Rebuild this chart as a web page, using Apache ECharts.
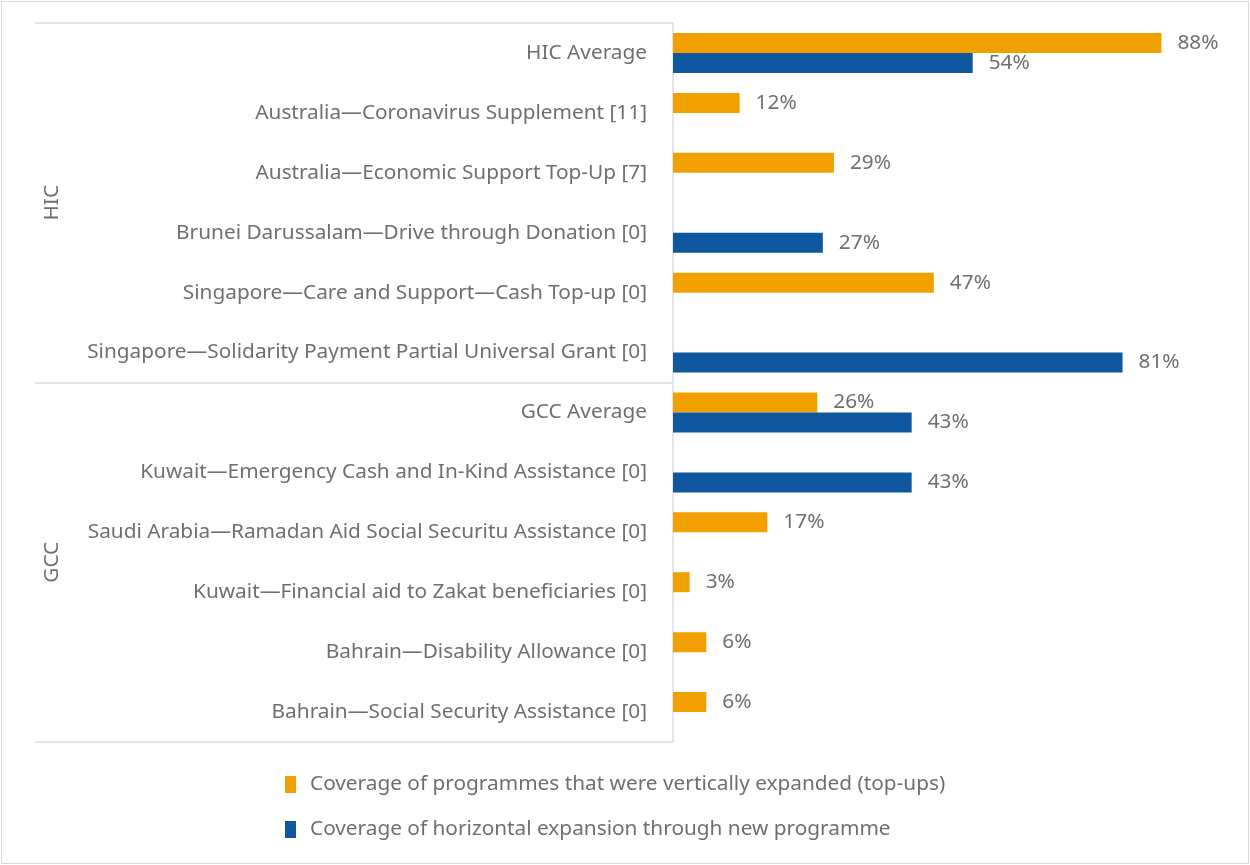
<!DOCTYPE html>
<html>
<head>
<meta charset="utf-8">
<script src="https://cdn.jsdelivr.net/npm/echarts@6/dist/echarts.min.js"></script>
<style>
  html, body { margin: 0; padding: 0; background: #fff; }
  #main { position: absolute; left: 1px; top: 1px; width: 1246px; height: 861px; border: 1px solid #d9d9d9; }
</style>
</head>
<body>
<div id="main"></div>
<script>
// programme names, top to bottom
var categories = [
    'HIC Average',
    'Australia\u2014Coronavirus Supplement [11]',
    'Australia\u2014Economic Support Top-Up [7]',
    'Brunei Darussalam\u2014Drive through Donation [0]',
    'Singapore\u2014Care and Support\u2014Cash Top-up [0]',
    'Singapore\u2014Solidarity Payment Partial Universal Grant [0]',
    'GCC Average',
    'Kuwait\u2014Emergency Cash and In-Kind Assistance [0]',
    'Saudi Arabia\u2014Ramadan Aid Social Securitu Assistance [0]',
    'Kuwait\u2014Financial aid to Zakat beneficiaries [0]',
    'Bahrain\u2014Disability Allowance [0]',
    'Bahrain\u2014Social Security Assistance [0]'
];
var groups = ['HIC', 'GCC'];
var seriesNames = [
    'Coverage of programmes that were vertically expanded (top-ups)',
    'Coverage of horizontal expansion through new programme'
];
// coverage in %
var topUps = [88, 12, 29, null, 47, null, 26, null, 17, 3, 6, 6];
var newProg = [54, null, null, 27, null, 81, 43, 43, null, null, null, null];

var textColor = '#6f6f6f';
var lineColor = '#dcdce4';
var font = 'Noto Sans';
var fs = 20.8;

var labelOpt = {
    show: true,
    position: 'right',
    distance: 16,
    formatter: '{c}%',
    color: textColor,
    fontFamily: font,
    fontSize: fs
};

var option = {
    animation: false,
    textStyle: { fontFamily: font },
    grid: { left: 671, right: 20, top: 21, bottom: 121 },
    legend: {
        orient: 'vertical',
        left: 278,
        top: 767,
        itemWidth: 11,
        itemHeight: 17,
        itemGap: 24,
        icon: 'rect',
        textStyle: { color: textColor, fontSize: fs, fontFamily: font, padding: [0, 0, 0, 9] },
        data: seriesNames
    },
    xAxis: {
        type: 'value',
        min: 0,
        max: 100,
        show: false
    },
    yAxis: [{
        type: 'category',
        inverse: true,
        data: categories,
        axisLine: { show: true, lineStyle: { color: lineColor, width: 1.5 } },
        axisTick: { show: false },
        axisLabel: { color: textColor, fontSize: fs, fontFamily: font, margin: 26 }
    }, {
        type: 'category',
        inverse: true,
        position: 'left',
        offset: 638,
        data: groups,
        axisLine: { show: false },
        axisTick: { show: true, inside: true, length: 638, lineStyle: { color: lineColor, width: 1.5 } },
        axisLabel: { inside: true, rotate: 90, margin: 7, color: textColor, fontSize: fs, fontFamily: font }
    }],
    series: [{
        name: seriesNames[0],
        type: 'bar',
        yAxisIndex: 0,
        data: topUps,
        barWidth: 20,
        barGap: '0%',
        itemStyle: { color: '#f29f00' },
        label: labelOpt
    }, {
        name: seriesNames[1],
        type: 'bar',
        yAxisIndex: 0,
        data: newProg,
        barWidth: 20,
        barGap: '0%',
        itemStyle: { color: '#0f579e' },
        label: labelOpt
    }]
};

var myChart = echarts.init(document.getElementById('main'));
myChart.setOption(option);
</script>
</body>
</html>
